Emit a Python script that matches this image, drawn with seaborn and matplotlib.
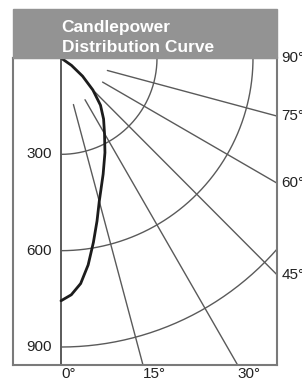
import numpy as np
import pandas as pd
import seaborn as sns
import matplotlib.pyplot as plt
from matplotlib.patches import Rectangle

# candlepower curve, angle from nadir (deg) and intensity (cd)
curve_angle = [0, 2.5, 5, 7.5, 10, 12.5, 15, 20, 25, 30, 35, 40, 45, 50, 55, 60]
curve_cd = [756, 738, 705, 650, 583, 520, 462, 385, 325, 272, 232, 192, 141, 88, 40, 0]

ring_cd = [300, 600, 900]
ring_labels = ["300", "600", "900"]
ray_angle = [15, 30, 45, 60, 75]
bottom_angle = [0, 15, 30]
bottom_labels = ["0°", "15°", "30°"]
side_angle = [45, 60, 75, 90]
side_labels = ["45°", "60°", "75°", "90°"]

sns.set_theme(style="white")
plt.rcParams['font.family'] = ['Liberation Sans', 'DejaVu Sans']

W, H = 302, 380
fig = plt.figure(figsize=(W / 100, H / 100), dpi=100)
ax = fig.add_axes([13 / W, 15 / H, 264 / W, 307 / H])
x_min, x_max, y_min, y_max = -150, 675, -956, 0
grid_col = "#5a5a5a"

# rings
t = np.radians(np.linspace(0, 90, 200))
for r in ring_cd:
    ax.plot(r * np.sin(t), -r * np.cos(t), color=grid_col, lw=1)

# rays
for a in ray_angle:
    ar = np.radians(a)
    ax.plot([150 * np.sin(ar), 2000 * np.sin(ar)],
            [-150 * np.cos(ar), -2000 * np.cos(ar)], color=grid_col, lw=1)
ax.axvline(0, color=grid_col, lw=1.4)

# curve
a = np.radians(curve_angle)
df = pd.DataFrame({"x": np.array(curve_cd) * np.sin(a),
                   "y": -np.array(curve_cd) * np.cos(a)})
sns.lineplot(data=df, x="x", y="y", sort=False, estimator=None,
             color="#1c1c1c", lw=2, ax=ax)

ax.set_xlim(x_min, x_max)
ax.set_ylim(y_min, y_max)
ax.set_xticks([])
ax.set_yticks([])
ax.set_xlabel("")
ax.set_ylabel("")
for s in ax.spines.values():
    s.set_color("#7a7a7a")
    s.set_linewidth(1.5)

for r, lab in zip(ring_cd, ring_labels):
    ax.text(-28, -r, lab, ha="right", va="center", fontsize=11, color="#222")

for ang, lab in zip(bottom_angle, bottom_labels):
    x = -y_min * np.tan(np.radians(ang))
    ax.text(x, y_min - 6, lab, ha="left", va="top", fontsize=11,
            color="#222", clip_on=False)

for ang, lab in zip(side_angle, side_labels):
    y = -x_max / np.tan(np.radians(ang)) if ang < 90 else 0
    ax.text(x_max + 14, y, lab, ha="left", va="center", fontsize=11,
            color="#222", clip_on=False)

# header band
fig.patches.append(Rectangle((13 / W, (H - 57.5) / H), 264 / W, 48.5 / H,
                             transform=fig.transFigure, color="#939393", zorder=0))
hfont = ['Liberation Sans Narrow', 'Liberation Sans', 'DejaVu Sans']
fig.text(61.5 / W, (H - 31.7) / H, "Candlepower", color="white", fontsize=12.5,
         fontweight="bold", family=hfont, va="baseline")
fig.text(61.5 / W, (H - 51.7) / H, "Distribution Curve", color="white",
         fontsize=12.5, fontweight="bold", family=hfont, va="baseline")

fig.savefig("out.png", dpi=100)
